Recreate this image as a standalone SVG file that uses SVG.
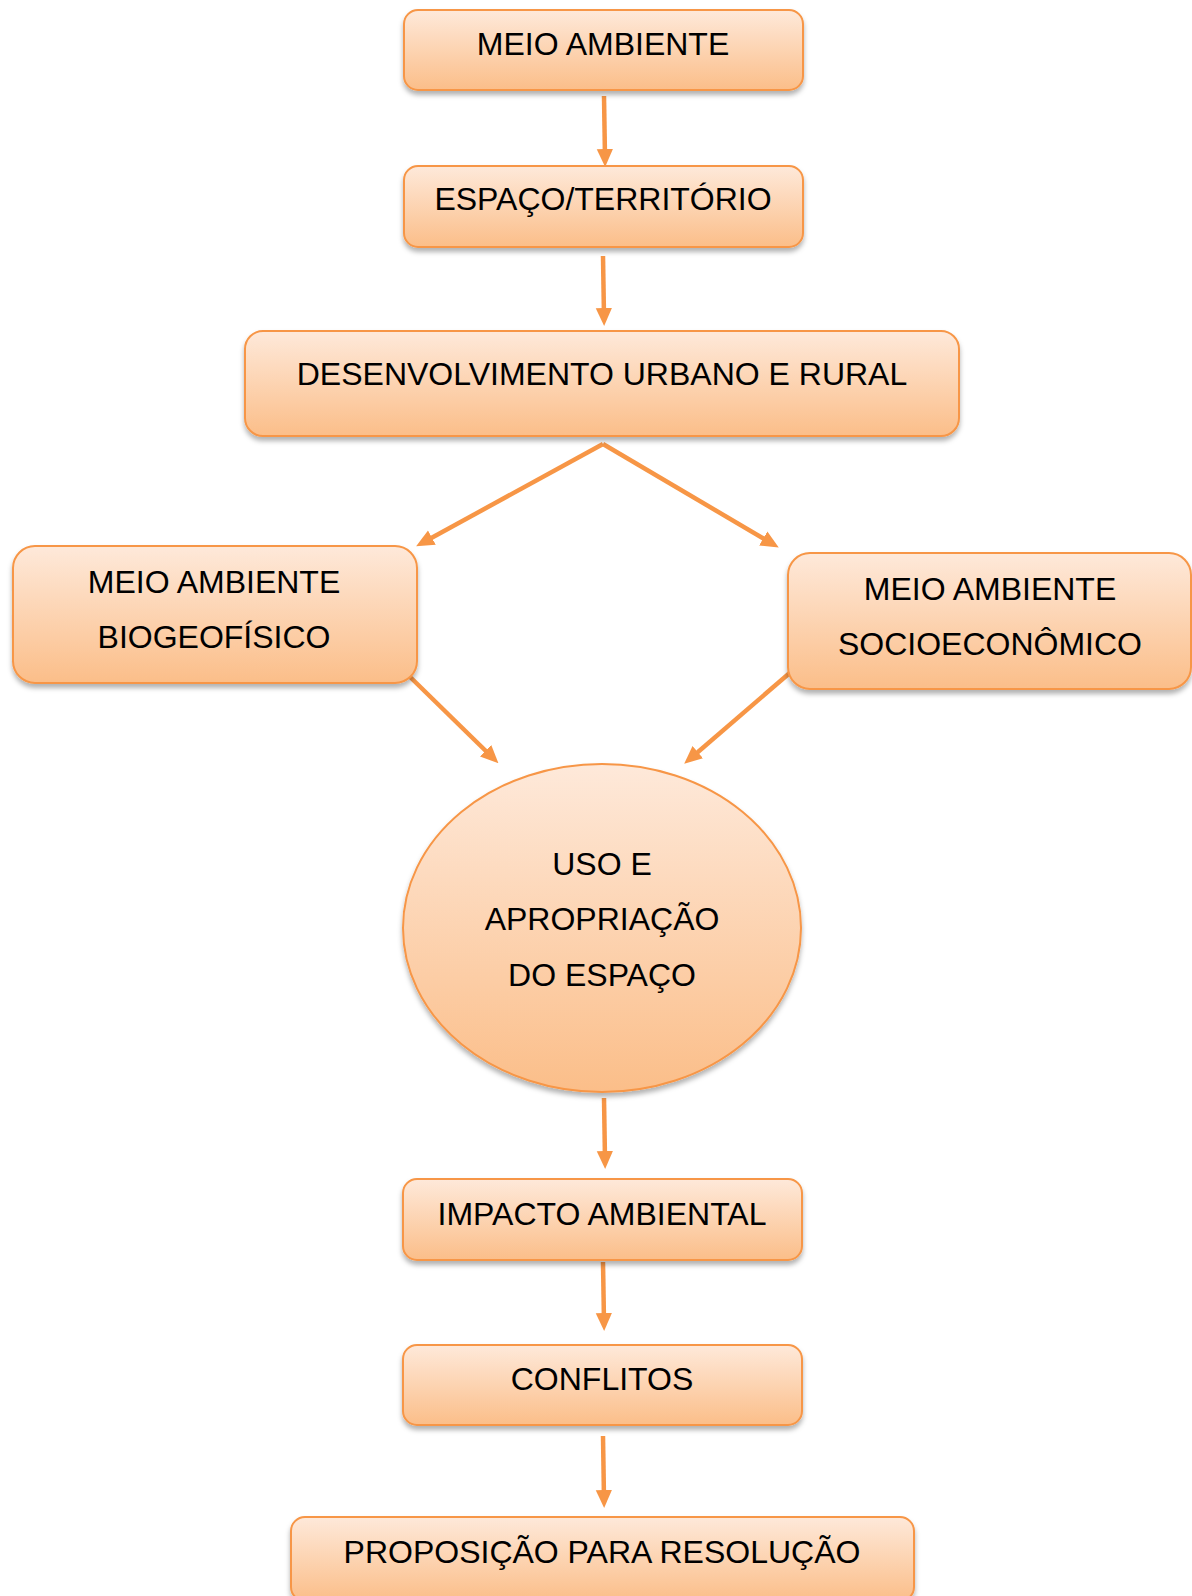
<svg xmlns="http://www.w3.org/2000/svg" width="1192" height="1596" viewBox="0 0 1192 1596">
  <defs>
    <linearGradient id="g" x1="0" y1="0" x2="0" y2="1">
      <stop offset="0" stop-color="#FEE9DA"/>
      <stop offset="1" stop-color="#FBBE89"/>
    </linearGradient>
    <filter id="sh" x="-10%" y="-10%" width="120%" height="130%">
      <feDropShadow dx="0" dy="4" stdDeviation="2.5" flood-color="#000" flood-opacity="0.3"/>
    </filter>
    <marker id="ah" viewBox="0 0 10 10" refX="5" refY="5" markerWidth="4" markerHeight="4" orient="auto">
      <path d="M0,0.5 L10,5 L0,9.5 z" fill="#F79646"/>
    </marker>
  </defs>
  <style>
    .box { fill: url(#g); stroke: #F79646; stroke-width: 2; filter: url(#sh); }
    .t { font-family: "Liberation Sans", Arial, sans-serif; font-size: 32px; fill: #000; text-anchor: middle; }
    .c { stroke: #F79646; stroke-width: 4.5; fill: none; marker-end: url(#ah); }
  </style>
  <rect width="1192" height="1596" fill="#fff"/>

  <g id="connectors">
    <line class="c" x1="604" y1="96" x2="605" y2="158"/>
    <line class="c" x1="603" y1="256" x2="604" y2="317"/>
    <line class="c" x1="603" y1="444" x2="424" y2="542"/>
    <line class="c" x1="603" y1="444" x2="771" y2="543"/>
    <line class="c" x1="404" y1="671" x2="492" y2="757"/>
    <line class="c" x1="792" y1="671" x2="691" y2="758"/>
    <line class="c" x1="604" y1="1098" x2="605" y2="1160"/>
    <line class="c" x1="603" y1="1262" x2="604" y2="1322"/>
    <line class="c" x1="603" y1="1436" x2="604" y2="1499"/>
  </g>

  <g id="meio-ambiente">
    <rect class="box" x="404" y="10" width="399" height="80" rx="14"/>
    <text class="t" x="603" y="55">MEIO AMBIENTE</text>
  </g>
  <g id="espaco-territorio">
    <rect class="box" x="404" y="166" width="399" height="81" rx="14"/>
    <text class="t" x="603" y="210">ESPAÇO/TERRITÓRIO</text>
  </g>
  <g id="desenvolvimento">
    <rect class="box" x="245" y="331" width="714" height="105" rx="18"/>
    <text class="t" x="602" y="385">DESENVOLVIMENTO URBANO E RURAL</text>
  </g>
  <g id="biogeofisico">
    <rect class="box" x="13" y="546" width="404" height="137" rx="22"/>
    <text class="t" x="214" y="593">MEIO AMBIENTE</text>
    <text class="t" x="214" y="648">BIOGEOFÍSICO</text>
  </g>
  <g id="socioeconomico">
    <rect class="box" x="788" y="553" width="403" height="136" rx="22"/>
    <text class="t" x="990" y="600">MEIO AMBIENTE</text>
    <text class="t" x="990" y="655">SOCIOECONÔMICO</text>
  </g>
  <g id="uso-apropriacao">
    <ellipse class="box" cx="602" cy="928" rx="199" ry="164"/>
    <text class="t" x="602" y="875">USO E</text>
    <text class="t" x="602" y="930">APROPRIAÇÃO</text>
    <text class="t" x="602" y="986">DO ESPAÇO</text>
  </g>
  <g id="impacto">
    <rect class="box" x="403" y="1179" width="399" height="81" rx="14"/>
    <text class="t" x="602" y="1225">IMPACTO AMBIENTAL</text>
  </g>
  <g id="conflitos">
    <rect class="box" x="403" y="1345" width="399" height="80" rx="14"/>
    <text class="t" x="602" y="1390">CONFLITOS</text>
  </g>
  <g id="proposicao">
    <rect class="box" x="291" y="1517" width="623" height="84" rx="14"/>
    <text class="t" x="602" y="1563">PROPOSIÇÃO PARA RESOLUÇÃO</text>
  </g>
</svg>
